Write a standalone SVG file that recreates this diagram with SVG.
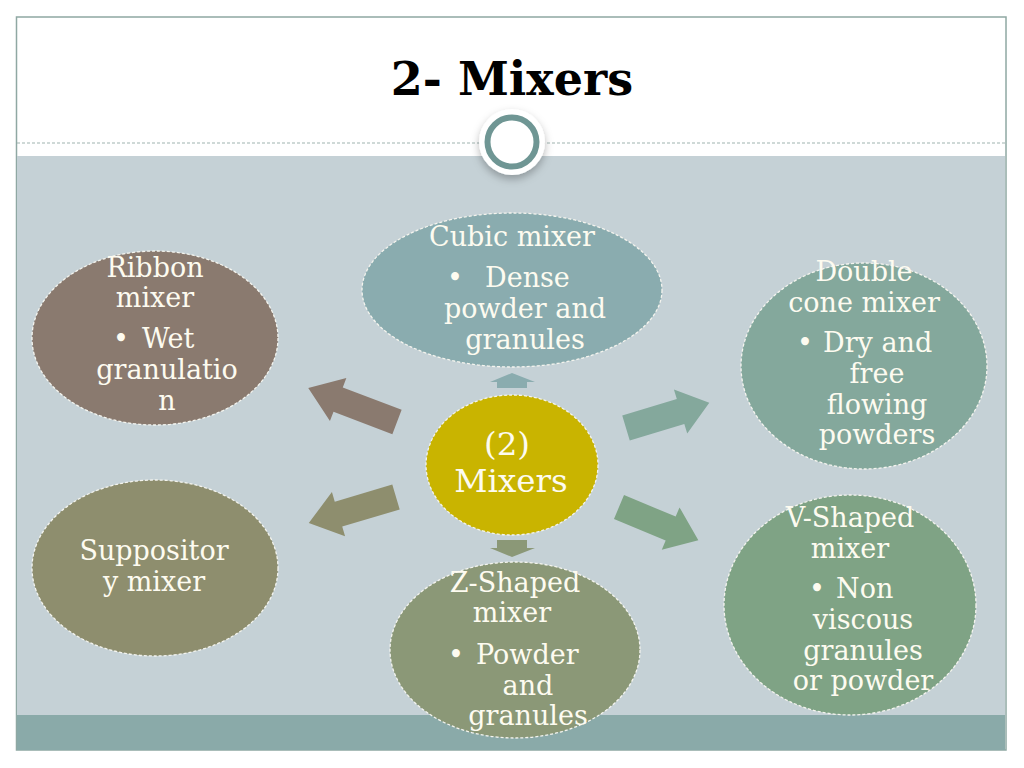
<svg xmlns="http://www.w3.org/2000/svg" width="1024" height="768" viewBox="0 0 1024 768">
<defs>
<style>
.t{font-family:"DejaVu Serif","Liberation Serif",serif;font-size:27px;fill:#fdfbf0;text-anchor:middle}
.b{font-family:"DejaVu Serif","Liberation Serif",serif;font-size:27px;fill:#fdfbf0}
.n{stroke:#f4f4ee;stroke-width:1.3;stroke-dasharray:3 2}
</style>
<filter id="sh" x="-50%" y="-50%" width="200%" height="200%">
<feDropShadow dx="0" dy="4" stdDeviation="4" flood-color="#000" flood-opacity="0.28"/>
</filter>
</defs>
<rect x="0" y="0" width="1024" height="768" fill="#ffffff"/>
<rect x="16.5" y="17" width="989.5" height="733" fill="#ffffff" stroke="#8fa8a3" stroke-width="1.5"/>
<rect x="17" y="156" width="988" height="559" fill="#c5d1d6"/>
<rect x="17" y="715" width="988" height="35" fill="#8aaaa9"/>
<line x1="17" y1="143" x2="1005" y2="143" stroke="#9fb3b0" stroke-width="1.2" stroke-dasharray="3 2"/>
<text x="512" y="95" font-family="DejaVu Serif,Liberation Serif,serif" font-size="46" font-weight="bold" fill="#000" text-anchor="middle">2- Mixers</text>
<g id="ornament">
<circle cx="512" cy="142" r="33" fill="#ffffff" filter="url(#sh)"/>
<circle cx="512" cy="142" r="24.5" fill="#ffffff" stroke="#6f9694" stroke-width="6"/>
</g>
<g id="connectors">
<path d="M0,-13 L63,-13 L63,-23 L95,0 L63,23 L63,13 L0,13 Z" fill="#8a7a6f" transform="translate(397,422) rotate(200.9)"/>
<path d="M0,-13 L60,-13 L60,-23 L91,0 L60,23 L60,13 L0,13 Z" fill="#8e8e6e" transform="translate(396,497) rotate(163.4)"/>
<path d="M0,-13 L57,-13 L57,-23 L87,0 L57,23 L57,13 L0,13 Z" fill="#84a89c" transform="translate(626,428) rotate(-16.8)"/>
<path d="M0,-13 L56,-13 L56,-23 L86,0 L56,23 L56,13 L0,13 Z" fill="#7fa385" transform="translate(619,507) rotate(22.7)"/>
<polygon points="497,388 497,382 490,382 512,373 535,382 527,382 527,388" fill="#8aacaf"/>
<polygon points="497,540 497,548 490,548 512,557 535,548 527,548 527,540" fill="#8b9877"/>
</g>
<g id="ribbon">
<ellipse class="n" cx="155" cy="338" rx="123" ry="87" fill="#8a7a6f"/>
<text class="t" x="155" y="277">Ribbon</text>
<text class="t" x="155" y="307">mixer</text>
<text class="b" x="113" y="348">•</text>
<text class="b" x="142" y="348">Wet</text>
<text class="t" x="167" y="379">granulatio</text>
<text class="t" x="167" y="410">n</text>
</g>
<g id="cubic">
<ellipse class="n" cx="512" cy="290" rx="150" ry="77" fill="#8aacaf"/>
<text class="t" x="512" y="246">Cubic mixer</text>
<text class="b" x="447" y="287">•</text>
<text class="b" x="485" y="287">Dense</text>
<text class="t" x="525" y="318">powder and</text>
<text class="t" x="525" y="349">granules</text>
</g>
<g id="doublecone">
<ellipse class="n" cx="864" cy="366" rx="123" ry="103" fill="#84a89c"/>
<text class="t" x="864" y="281">Double</text>
<text class="t" x="864" y="312">cone mixer</text>
<text class="b" x="797" y="352">•</text>
<text class="b" x="823" y="352">Dry and</text>
<text class="t" x="877" y="383">free</text>
<text class="t" x="877" y="414">flowing</text>
<text class="t" x="877" y="444">powders</text>
</g>
<g id="center">
<ellipse class="n" cx="512" cy="465" rx="86" ry="70" fill="#c9b400"/>
<text class="t" x="507" y="455" style="font-size:32.5px">(2)</text>
<text class="t" x="511" y="492" style="font-size:32.5px">Mixers</text>
</g>
<g id="suppository">
<ellipse class="n" cx="155" cy="568" rx="123" ry="88" fill="#8e8e6e"/>
<text class="t" x="154" y="560">Suppositor</text>
<text class="t" x="154" y="591">y mixer</text>
</g>
<g id="zshaped">
<ellipse class="n" cx="515" cy="650" rx="125" ry="88" fill="#8b9877"/>
<text class="t" x="515" y="592">Z-Shaped</text>
<text class="t" x="512" y="622">mixer</text>
<text class="b" x="448" y="664">•</text>
<text class="b" x="476" y="664">Powder</text>
<text class="t" x="528" y="695">and</text>
<text class="t" x="528" y="725">granules</text>
</g>
<g id="vshaped">
<ellipse class="n" cx="850" cy="605" rx="126" ry="110" fill="#7fa385"/>
<text class="t" x="850" y="527">V-Shaped</text>
<text class="t" x="850" y="558">mixer</text>
<text class="b" x="809" y="598">•</text>
<text class="b" x="836" y="598">Non</text>
<text class="t" x="863" y="629">viscous</text>
<text class="t" x="863" y="660">granules</text>
<text class="t" x="863" y="690">or powder</text>
</g>
</svg>
